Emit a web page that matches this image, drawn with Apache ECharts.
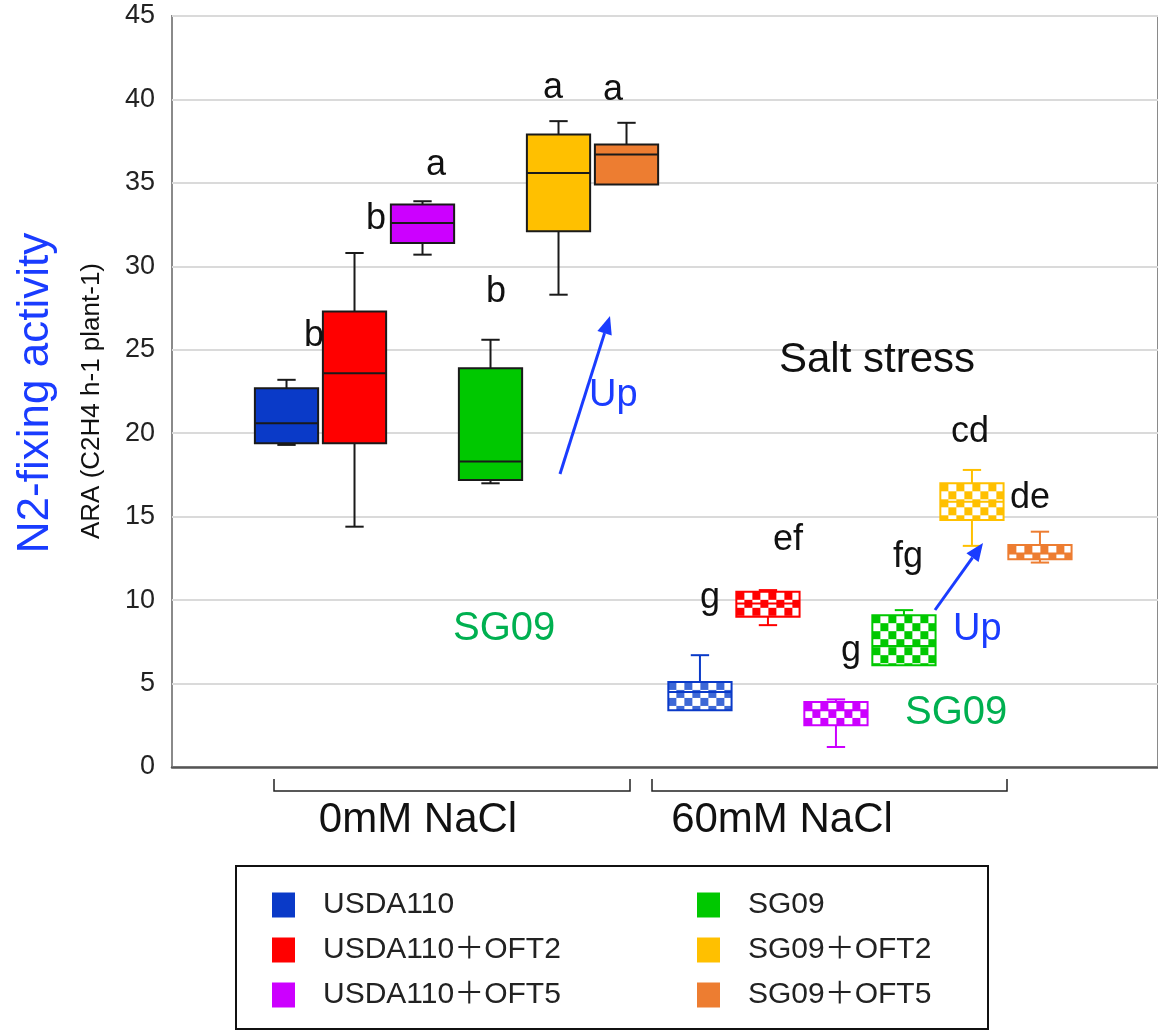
<!DOCTYPE html>
<html>
<head>
<meta charset="utf-8">
<script src="https://cdn.jsdelivr.net/npm/echarts@6.0.0/dist/echarts.min.js"></script>
<style>
  html, body { margin: 0; padding: 0; background: #fff; }
  #chart { width: 1158px; height: 1031px; }
</style>
</head>
<body>
<div id="chart"></div>
<script>
// strains, in legend order
const strains = ['USDA110', 'USDA110＋OFT2', 'USDA110＋OFT5', 'SG09', 'SG09＋OFT2', 'SG09＋OFT5']
const conditions = ['0mM NaCl', '60mM NaCl']
const colors = ['#0a3ac8', '#ff0000', '#cc00ff', '#00c800', '#ffc000', '#ed7d31']

// [min, Q1, median, Q3, max]
const box0mM = [
  [19.3, 19.4, 20.6, 22.7, 23.2],
  [14.4, 19.4, 23.6, 27.3, 30.8],
  [30.7, 31.4, 32.6, 33.7, 33.9],
  [17.0, 17.2, 18.3, 23.9, 25.6],
  [28.3, 32.1, 35.6, 37.9, 38.7],
  [34.9, 34.9, 36.7, 37.3, 38.6],
]
const box60mM = [
  [3.4, 3.4, 4.5, 5.1, 6.7],
  [8.5, 9.0, 9.8, 10.5, 10.6],
  [1.2, 2.5, 3.4, 3.9, 4.05],
  [6.1, 6.1, 7.25, 9.1, 9.4],
  [13.25, 14.8, 15.9, 17.0, 17.8],
  [12.25, 12.45, 12.8, 13.3, 14.1],
]

// significance letters
const letterText = ['b', 'b', 'a', 'b', 'a', 'a', 'g', 'ef', 'g', 'fg', 'cd', 'de']
const letterPos = [[314, 349], [376, 232], [436, 178], [496, 305], [553, 101], [613, 103],
  [710, 611], [788, 553], [851, 664], [908, 570], [970, 445], [1030, 511]]

const FONT = "'Liberation Sans', Arial, sans-serif"
const boxW = 0.93
const groupGap = 0.08

function checker(color) {
  const c = document.createElement('canvas')
  c.width = 16; c.height = 16
  const ctx = c.getContext('2d')
  ctx.fillStyle = '#fff'
  ctx.fillRect(0, 0, 16, 16)
  ctx.fillStyle = color
  ctx.fillRect(0, 0, 8, 8)
  ctx.fillRect(8, 8, 8, 8)
  return c
}
const patterns = colors.map((c, i) => checker(i === 0 ? '#3d68d6' : c))

function renderBox(params, api) {
  const x = api.value(0)
  const g = api.value(6)
  const half = api.size([boxW, 0])[0] / 2
  const cap = half * 0.29
  const cx = api.coord([x, 0])[0]
  const yLo = api.coord([x, api.value(1)])[1]
  const yQ1 = api.coord([x, api.value(2)])[1]
  const yMed = api.coord([x, api.value(3)])[1]
  const yQ3 = api.coord([x, api.value(4)])[1]
  const yHi = api.coord([x, api.value(5)])[1]
  const color = api.visual('color')
  const salt = g === 1
  const stroke = salt ? color : '#1a1a1a'
  const lineStyle = { stroke, lineWidth: 2 }
  const children = []
  if (yHi < yQ3 - 0.5) {
    children.push({ type: 'line', shape: { x1: cx, y1: yQ3, x2: cx, y2: yHi }, style: lineStyle })
    children.push({ type: 'line', shape: { x1: cx - cap, y1: yHi, x2: cx + cap, y2: yHi }, style: lineStyle })
  }
  if (yLo > yQ1 + 0.5) {
    children.push({ type: 'line', shape: { x1: cx, y1: yQ1, x2: cx, y2: yLo }, style: lineStyle })
    children.push({ type: 'line', shape: { x1: cx - cap, y1: yLo, x2: cx + cap, y2: yLo }, style: lineStyle })
  }
  const fill = salt
    ? { image: patterns[params.seriesIndex], repeat: 'repeat', x: cx - half, y: yQ3 }
    : color
  children.push({
    type: 'rect',
    shape: { x: cx - half, y: yQ3, width: half * 2, height: yQ1 - yQ3 },
    style: { fill, stroke, lineWidth: 2 },
  })
  children.push({ type: 'line', shape: { x1: cx - half, y1: yMed, x2: cx + half, y2: yMed }, style: lineStyle })
  return { type: 'group', children }
}

const series = strains.map((name, i) => ({
  name,
  type: 'custom',
  renderItem: renderBox,
  itemStyle: { color: colors[i] },
  encode: { x: 0, y: [1, 2, 3, 4, 5] },
  data: [box0mM, box60mM].map((boxes, g) => [1 + i + g * (6 + groupGap), ...boxes[i], g]),
}))

function arrow(x1, y1, x2, y2) {
  const a = Math.atan2(y2 - y1, x2 - x1)
  const L = 18, W = 7.5
  const bx = x2 - L * Math.cos(a), by = y2 - L * Math.sin(a)
  return [
    { type: 'line', shape: { x1, y1, x2: bx, y2: by }, style: { stroke: '#1a3cff', lineWidth: 3 } },
    {
      type: 'polygon',
      shape: { points: [[x2, y2], [bx + W * Math.sin(a), by - W * Math.cos(a)], [bx - W * Math.sin(a), by + W * Math.cos(a)]] },
      style: { fill: '#1a3cff' },
    },
  ]
}

function txt(text, x, baseline, size, color, align) {
  return {
    type: 'text', x, y: baseline - size * 0.35,
    style: { text, fill: color, font: size + 'px ' + FONT, align: align || 'center', verticalAlign: 'middle' },
  }
}

const bracketPos = [[274, 630], [652, 1007]]
const condLabelX = [418, 782]

const graphics = [
  {
    type: 'text', x: 36, y: 393, rotation: Math.PI / 2,
    style: { text: 'N2-fixing activity', fill: '#1a3cff', font: '44px ' + FONT, align: 'center', verticalAlign: 'middle' },
  },
  {
    type: 'text', x: 92, y: 401, rotation: Math.PI / 2,
    style: { text: 'ARA (C2H4 h-1 plant-1)', fill: '#111', font: '26px ' + FONT, align: 'center', verticalAlign: 'middle' },
  },
  ...bracketPos.map(([a, b]) => ({
    type: 'polyline',
    shape: { points: [[a, 779], [a, 791], [b, 791], [b, 779]] },
    style: { stroke: '#222', lineWidth: 1.5, fill: null },
  })),
  ...conditions.map((c, i) => txt(c, condLabelX[i], 835, 42, '#111')),
  txt('Salt stress', 877, 375, 42, '#111'),
  txt('Up', 589, 409, 38, '#1a3cff', 'left'),
  txt('Up', 953, 643, 38, '#1a3cff', 'left'),
  txt('SG09', 453, 643, 40, '#00b050', 'left'),
  txt('SG09', 905, 727, 40, '#00b050', 'left'),
  ...arrow(560, 474, 610, 316),
  ...arrow(935, 610, 983, 543),
  ...letterText.map((t, i) => txt(t, letterPos[i][0], letterPos[i][1], 36, '#111')),
  {
    type: 'rect',
    shape: { x: 236, y: 866, width: 752, height: 163 },
    style: { fill: null, stroke: '#111', lineWidth: 2 },
  },
].map((el) => ({ ...el, z: 100 }))

const legendCommon = {
  orient: 'vertical',
  top: 890,
  padding: 0,
  itemGap: 15,
  itemWidth: 23,
  itemHeight: 25,
  icon: 'rect',
  selectedMode: false,
  textStyle: {
    fontSize: 30,
    fontFamily: "'Liberation Sans', 'Noto Sans CJK JP', sans-serif",
    color: '#222',
    lineHeight: 25,
    padding: [0, 0, 0, 23],
  },
}

const chart = echarts.init(document.getElementById('chart'))
chart.setOption({
  animation: false,
  grid: { left: 172, top: 16, width: 986, height: 751, show: true, borderColor: '#8a8a8a', borderWidth: 2 },
  xAxis: {
    type: 'value',
    min: -0.684,
    max: 13.816,
    axisLine: { show: true, onZero: false, lineStyle: { color: '#555', width: 2.5 } },
    axisTick: { show: false },
    axisLabel: { show: false },
    splitLine: { show: false },
  },
  yAxis: {
    type: 'value',
    min: 0,
    max: 45,
    interval: 5,
    axisLine: { show: false },
    axisTick: { show: false },
    axisLabel: { color: '#222', fontSize: 27, fontFamily: FONT, margin: 17 },
    splitLine: { lineStyle: { color: '#dadada', width: 2 } },
  },
  legend: [
    { ...legendCommon, left: 272, data: strains.slice(0, 3) },
    { ...legendCommon, left: 697, data: strains.slice(3) },
  ],
  graphic: graphics,
  series,
})
</script>
</body>
</html>
